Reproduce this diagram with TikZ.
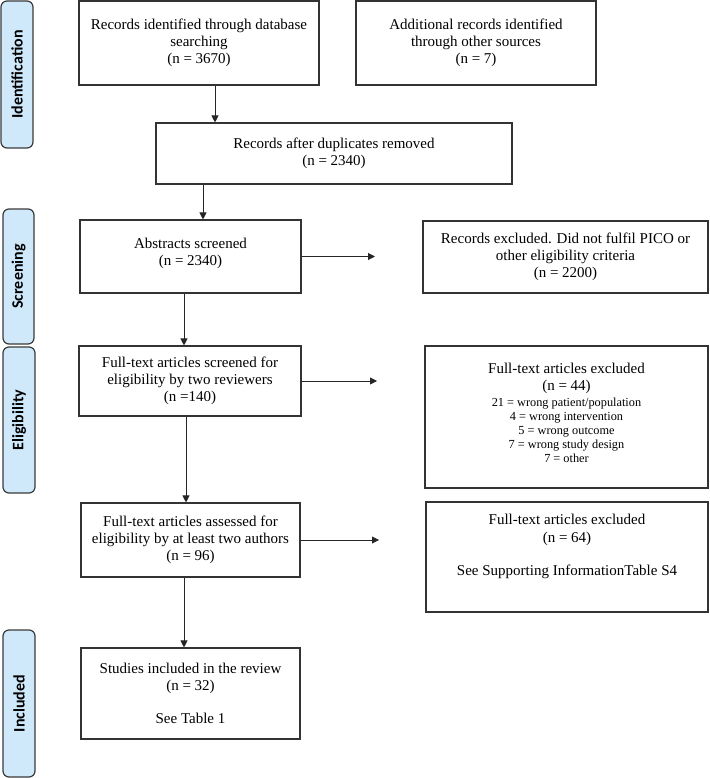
\documentclass[tikz,border=0pt]{standalone}
\usepackage{fontspec}
\setmainfont{Liberation Serif}
\newfontfamily\tabfont{Carlito}
\usepackage{tikz}
\usetikzlibrary{arrows.meta}
\usetikzlibrary{positioning}
\definecolor{tabblue}{HTML}{CFE9FB}
\definecolor{tabedge}{HTML}{3A3A3A}
\definecolor{boxedge}{HTML}{333333}
\newcommand{\smalltxt}{\fontsize{12.3}{14}\selectfont}
\tikzstyle{phasetab}=[draw=tabedge, line width=1.2pt, fill=tabblue, shape=rectangle, rounded corners=6pt, rotate=90, inner sep=0pt, font=\tabfont\bfseries\fontsize{16}{18}\selectfont]
\tikzstyle{stepbox}=[draw=boxedge, line width=1.1pt, shape=rectangle, align=center, inner sep=2pt, fill=white, font=\fontsize{15}{17}\selectfont]
\tikzstyle{flowarrow}=[-{Triangle[length=7pt, width=7pt]}, line width=0.9pt, color=black!85]

\begin{document}
\begin{tikzpicture}[x=1pt, y=-1pt]
\useasboundingbox (0,0) rectangle (709,778);

\node [phasetab, minimum width=147pt, minimum height=32pt] (identtab) at (17,74.5) {Identification};
\node [phasetab, minimum width=135pt, minimum height=31pt] (screentab) at (18.5,276.5) {Screening};
\node [phasetab, minimum width=146pt, minimum height=32pt] (eligtab) at (19,420) {Eligibility};
\node [phasetab, minimum width=147pt, minimum height=32pt] (incltab) at (19,703.5) {Included};

\node [stepbox, minimum width=240pt, minimum height=84pt] (dbsearch) at (199,43) {Records identified through database\\ searching\\ (n = 3670)};
\node [stepbox, minimum width=240pt, minimum height=84pt] (othersrc) at (476,43) {Additional records identified\\ through other sources\\ (n = 7)};
\node [stepbox, minimum width=356pt, minimum height=61pt] (dedup) at (334,153.5) {Records after duplicates removed\\ (n = 2340)};
\node [stepbox, minimum width=221pt, minimum height=73pt] (abstracts) at (190.5,256.5) {Abstracts screened\\ (n = 2340)\\[-8pt]};
\node [stepbox, minimum width=285pt, minimum height=72pt] (piconot) at (565.5,257) {Records excluded. Did not fulfil PICO or\\ other eligibility criteria\\ (n = 2200)};
\node [stepbox, minimum width=222pt, minimum height=70pt] (fulltext) at (190,381) {Full-text articles screened for\\ eligibility by two reviewers\\ (n =140)};
\node [stepbox, minimum width=283pt, minimum height=142pt] (ftexcl) at (566.5,417) {Full-text articles excluded\\ (n = 44)\\[-1pt] \smalltxt 21 = wrong patient/population\\[-3pt] \smalltxt 4 = wrong intervention\\[-3pt] \smalltxt 5 = wrong outcome\\[-3pt] \smalltxt 7 = wrong study design\\[-3pt] \smalltxt 7 = other\\[-8pt]};
\node [stepbox, minimum width=219pt, minimum height=74pt] (assessed) at (190.5,540) {Full-text articles assessed for\\ eligibility by at least two authors\\ (n = 96)};
\node [stepbox, minimum width=282pt, minimum height=110pt] (asexcl) at (567,557) {Full-text articles excluded\\[1pt] (n = 64)\\[16pt] See Supporting InformationTable S4\\[8pt]};
\node [stepbox, minimum width=219pt, minimum height=91pt] (included) at (190.5,693.5) {Studies included in the review\\ (n = 32)\\[16pt] See Table 1};

\coordinate (absout) at (375,256.5);
\coordinate (ftout) at (377,381);
\coordinate (asout) at (379,540);

\draw[flowarrow] ([xshift=16pt]dbsearch.south) -- ([xshift=16pt]dbsearch.south |- dedup.north);
\draw[flowarrow] ([xshift=12.5pt]abstracts.north |- dedup.south) -- ([xshift=12.5pt]abstracts.north);
\draw[flowarrow] ([xshift=-6.5pt]abstracts.south) -- ([xshift=-6.5pt]abstracts.south |- fulltext.north);
\draw[flowarrow] ([xshift=-4pt]fulltext.south) -- ([xshift=-4pt]fulltext.south |- assessed.north);
\draw[flowarrow] ([xshift=-6.5pt]assessed.south) -- ([xshift=-6.5pt]assessed.south |- included.north);
\draw[flowarrow] (abstracts.east) -- (absout);
\draw[flowarrow] (fulltext.east) -- (ftout);
\draw[flowarrow] (assessed.east) -- (asout);
\end{tikzpicture}
\end{document}
